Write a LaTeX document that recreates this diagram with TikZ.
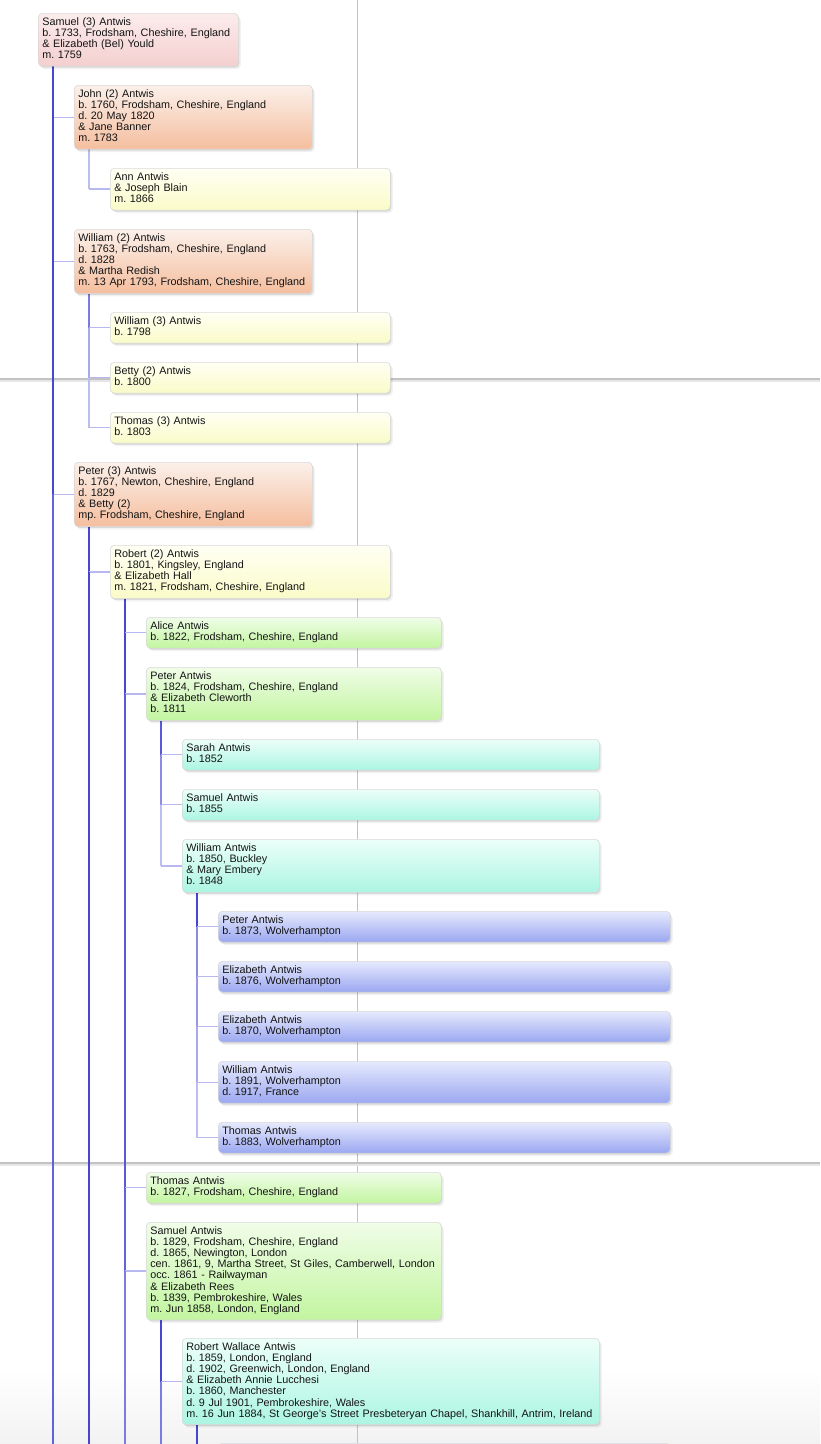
\documentclass[tikz,border=0pt]{standalone}
\usepackage{fontspec}
\setmainfont{Liberation Sans}
\usetikzlibrary{shadows}
\definecolor{p0t}{HTML}{FCECEC}\definecolor{p0b}{HTML}{F4CFCF}
\definecolor{p1t}{HTML}{FBF0EA}\definecolor{p1b}{HTML}{F5BE9E}
\definecolor{p2t}{HTML}{FFFFF4}\definecolor{p2b}{HTML}{FAFBC8}
\definecolor{p3t}{HTML}{F0FDE8}\definecolor{p3b}{HTML}{C2F5A0}
\definecolor{p4t}{HTML}{ECFFF9}\definecolor{p4b}{HTML}{ACF5E2}
\definecolor{p5t}{HTML}{E6EAFD}\definecolor{p5b}{HTML}{9BA7F1}
\definecolor{dk}{HTML}{4646D3}
\definecolor{dkb}{HTML}{5A5AD8}
\definecolor{cb}{HTML}{6262DA}
\definecolor{md}{HTML}{7C7CE0}
\definecolor{mdl}{HTML}{8C8CE4}
\definecolor{ml}{HTML}{9898E7}
\definecolor{lt}{HTML}{A8A8EC}
\definecolor{xl}{HTML}{BDBDF2}
\definecolor{br}{HTML}{B8B8F0}
\definecolor{pg}{HTML}{C2C2C2}
\definecolor{pgl}{HTML}{E6E6E6}
\definecolor{bord}{HTML}{D9D9D9}
\pgfdeclarelayer{bg}\pgfdeclarelayer{lines}
\pgfsetlayers{bg,lines,main}
\newcommand\kids[2]{%
  \coordinate (#1-v) at ([xshift=15pt]#1.south west);
  \coordinate (#1-#1) at (#1-v);
  \foreach \ch/\cl [remember=\ch as \pr (initially #1)] in {#2}{%
    \coordinate (#1-\ch) at (#1-v |- \ch.west);
    \draw[vline,draw=\cl] (#1-\pr) -- (#1-\ch);
    \draw[branch] (#1-\ch) -- (\ch.west);
  }}
\newcommand\boxfont{\fontsize{10.8pt}{11pt}\selectfont\frenchspacing}
\newcommand\bx[1]{\begin{tabular}[t]{@{}l@{}}#1\end{tabular}}
\tikzset{
  box/.style={draw=bord, line width=0.6pt, rounded corners=4pt,
    inner xsep=4pt, inner ysep=4.25pt, anchor=north west,
    font=\boxfont, text=black!92,
    drop shadow={shadow xshift=1pt, shadow yshift=-1.5pt, opacity=0.10, fill=black},
    drop shadow={shadow xshift=2.5pt, shadow yshift=-3pt, opacity=0.05, fill=black}},
  lv0/.style={box, text width=192pt, top color=p0t, bottom color=p0b},
  lv1/.style={box, text width=230pt, top color=p1t, bottom color=p1b},
  lv2/.style={box, text width=272pt, top color=p2t, bottom color=p2b},
  lv3/.style={box, text width=287pt, top color=p3t, bottom color=p3b},
  lv4/.style={box, text width=409pt, top color=p4t, bottom color=p4b},
  lv5/.style={box, text width=444pt, top color=p5t, bottom color=p5b},
  vline/.style={line width=1.9pt},
  branch/.style={line width=1.4pt, draw=br},
  pageline/.style={line width=1.8pt, draw=pg},
}
\begin{document}
\frenchspacing
\begin{tikzpicture}[x=1pt,y=-1pt]
\useasboundingbox (0,0) rectangle (820,1444);
\clip (0,0) rectangle (820,1444);
\coordinate (bot) at (0,1444);
\begin{pgfonlayer}{bg}
  \fill[white] (0,0) rectangle (820,1444);
  \shade[top color=white, bottom color=black!5] (0,1370) rectangle (820,1444);
  \draw[pageline] (357.5,0) -- (357.5,1444);
  \draw[pageline] (0,379.3) -- (820,379.3);
  \draw[line width=1.5pt, draw=pgl] (0,381.2) -- (820,381.2);
  \draw[pageline] (0,1163.3) -- (820,1163.3);
  \draw[line width=1.5pt, draw=pgl] (0,1165.2) -- (820,1165.2);
\end{pgfonlayer}

\node[lv0] (s3) at (38,13) {\bx{Samuel (3) Antwis\\b. 1733, Frodsham, Cheshire, England\\\& Elizabeth (Bel) Yould\\m. 1759}};
\node[lv1] (j2) at (74,85) {\bx{John (2) Antwis\\b. 1760, Frodsham, Cheshire, England\\d. 20 May 1820\\\& Jane Banner\\m. 1783}};
\node[lv2] (ann) at (110,168) {\bx{Ann Antwis\\\& Joseph Blain\\m. 1866}};
\node[lv1] (w2) at (74,229) {\bx{William (2) Antwis\\b. 1763, Frodsham, Cheshire, England\\d. 1828\\\& Martha Redish\\m. 13 Apr 1793, Frodsham, Cheshire, England}};
\node[lv2] (w3) at (110,312) {\bx{William (3) Antwis\\b. 1798}};
\node[lv2] (b2) at (110,362) {\bx{Betty (2) Antwis\\b. 1800}};
\node[lv2] (t3) at (110,412) {\bx{Thomas (3) Antwis\\b. 1803}};
\node[lv1] (p3) at (74,462) {\bx{Peter (3) Antwis\\b. 1767, Newton, Cheshire, England\\d. 1829\\\& Betty (2)\\mp. Frodsham, Cheshire, England}};
\node[lv2] (r2) at (110,545) {\bx{Robert (2) Antwis\\b. 1801, Kingsley, England\\\& Elizabeth Hall\\m. 1821, Frodsham, Cheshire, England}};
\node[lv3] (alice) at (146,617) {\bx{Alice Antwis\\b. 1822, Frodsham, Cheshire, England}};
\node[lv3] (peter) at (146,667) {\bx{Peter Antwis\\b. 1824, Frodsham, Cheshire, England\\\& Elizabeth Cleworth\\b. 1811}};
\node[lv4] (sarah) at (182,739) {\bx{Sarah Antwis\\b. 1852}};
\node[lv4] (samuel) at (182,789) {\bx{Samuel Antwis\\b. 1855}};
\node[lv4] (william) at (182,839) {\bx{William Antwis\\b. 1850, Buckley\\\& Mary Embery\\b. 1848}};
\node[lv5] (pe) at (218,911) {\bx{Peter Antwis\\b. 1873, Wolverhampton}};
\node[lv5] (el1) at (218,961) {\bx{Elizabeth Antwis\\b. 1876, Wolverhampton}};
\node[lv5] (el2) at (218,1011) {\bx{Elizabeth Antwis\\b. 1870, Wolverhampton}};
\node[lv5] (wi) at (218,1061) {\bx{William Antwis\\b. 1891, Wolverhampton\\d. 1917, France}};
\node[lv5] (th) at (218,1122) {\bx{Thomas Antwis\\b. 1883, Wolverhampton}};
\node[lv3] (th2) at (146,1172) {\bx{Thomas Antwis\\b. 1827, Frodsham, Cheshire, England}};
\node[lv3] (sam) at (146,1222) {\bx{Samuel Antwis\\b. 1829, Frodsham, Cheshire, England\\d. 1865, Newington, London\\cen. 1861, 9, Martha Street, St Giles, Camberwell, London\\occ. 1861 - Railwayman\\\& Elizabeth Rees\\b. 1839, Pembrokeshire, Wales\\m. Jun 1858, London, England}};
\node[lv4] (rw) at (182,1338) {\bx{Robert Wallace Antwis\\b. 1859, London, England\\d. 1902, Greenwich, London, England\\\& Elizabeth Annie Lucchesi\\b. 1860, Manchester\\d. 9 Jul 1901, Pembrokeshire, Wales\\m. 16 Jun 1884, St George’s Street Presbeteryan Chapel, Shankhill, Antrim, Ireland}};
\node[lv5] (nx) at (218,1443) {\bx{~\\~}};

\begin{pgfonlayer}{lines}
  \kids{s3}{j2/dk, w2/dk, p3/dk}
  \draw[vline,draw=cb] (s3-p3) -- (s3-v |- bot);
  \kids{j2}{ann/xl}
  \kids{w2}{w3/md, b2/lt, t3/xl}
  \kids{p3}{r2/dk}
  \draw[vline,draw=dk] (p3-r2) -- (p3-v |- bot);
  \kids{r2}{alice/dk, peter/dk, th2/dkb, sam/cb}
  \draw[vline,draw=md] (r2-sam) -- (r2-v |- bot);
  \kids{peter}{sarah/dkb, samuel/mdl, william/xl}
  \kids{william}{pe/dk, el1/mdl, el2/ml, wi/lt, th/xl}
  \kids{sam}{rw/dk}
  \draw[vline,draw=md] (sam-rw) -- (sam-v |- bot);
  \coordinate (rw-v) at ([xshift=15pt]rw.south west);
  \draw[vline,draw=dk] (rw-v) -- (rw-v |- bot);
\end{pgfonlayer}
\end{tikzpicture}
\end{document}
